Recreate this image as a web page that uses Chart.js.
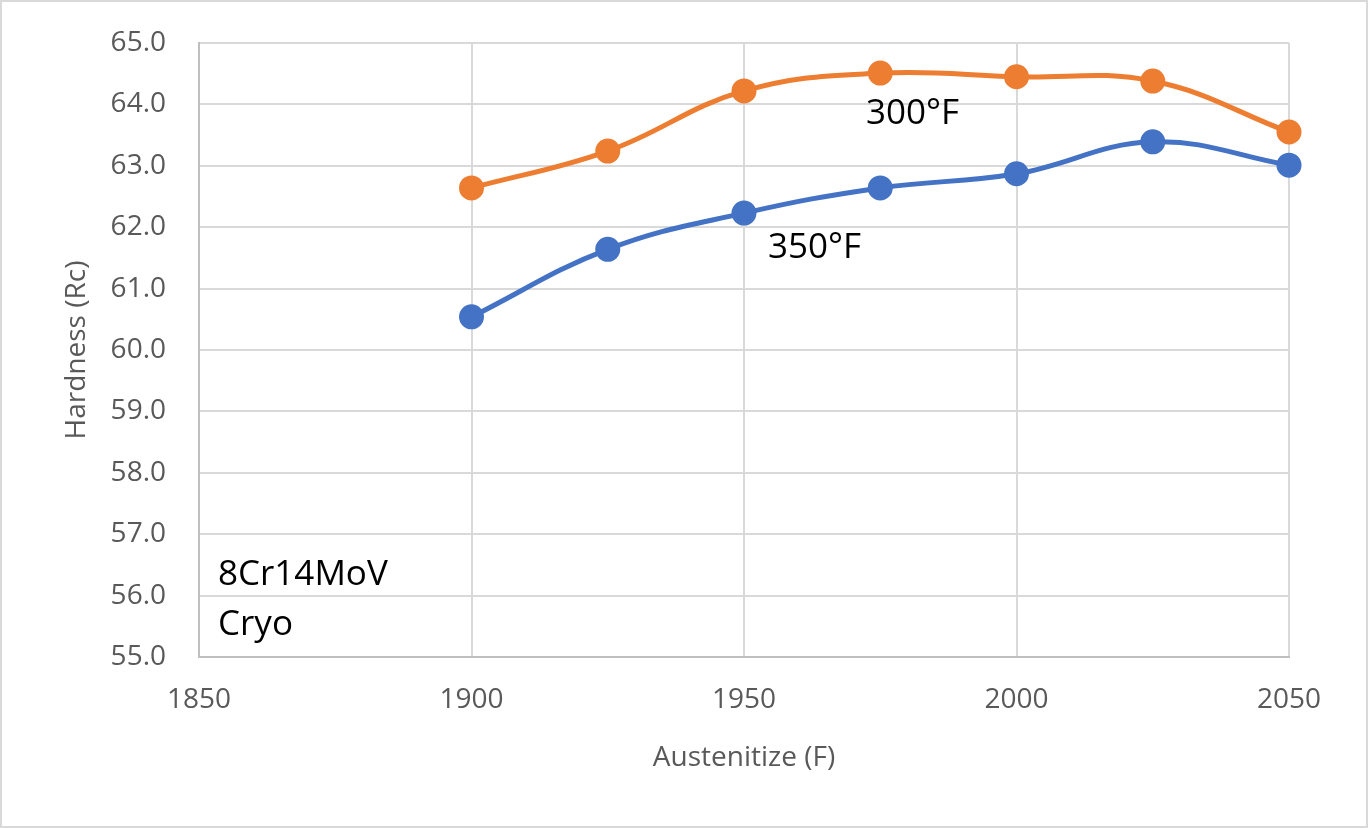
<!DOCTYPE html>
<html>
<head>
<meta charset="utf-8">
<title>8Cr14MoV Cryo hardness</title>
<script src="https://cdn.jsdelivr.net/npm/chart.js@4.4.0/dist/chart.umd.min.js"></script>
<style>
  html, body { margin: 0; padding: 0; background: #fff; }
  #wrap { width: 1368px; height: 828px; }
</style>
</head>
<body>
<div id="wrap"><canvas id="chart" width="1368" height="828"></canvas></div>
<script>
// austenitizing temperature (F)
var temps = [1900, 1925, 1950, 1975, 2000, 2025, 2050];
// hardness (Rc) per temper
var temper300 = [62.64, 63.24, 64.22, 64.51, 64.45, 64.38, 63.55];
var temper350 = [60.54, 61.64, 62.23, 62.64, 62.87, 63.39, 63.01];
var seriesNames = ['300°F', '350°F'];
var noteLines = ['8Cr14MoV', 'Cryo'];

var FONT = '"Open Sans", Lato, sans-serif';

function pts(ys) {
  return temps.map(function (t, i) { return {x: t, y: ys[i]}; });
}

// labels next to each curve, in data units
var seriesLabels = [
  {text: seriesNames[0], x: 1972.4, y: 63.85},
  {text: seriesNames[1], x: 1954.4, y: 61.66}
];

var textPlugin = {
  id: 'texts',
  beforeDraw: function (chart) {
    var c = chart.ctx;
    c.save();
    c.strokeStyle = '#d9d9d9';
    c.lineWidth = 2;
    c.strokeRect(1, 1, chart.width - 2, chart.height - 2);
    c.restore();
  },
  afterDatasetsDraw: function (chart) {
    var c = chart.ctx, xs = chart.scales.x, ys = chart.scales.y, a = chart.chartArea;
    c.save();
    c.fillStyle = '#000';
    c.font = '35px ' + FONT;
    c.textAlign = 'left';
    c.textBaseline = 'middle';
    seriesLabels.forEach(function (l) {
      c.fillText(l.text, xs.getPixelForValue(l.x), ys.getPixelForValue(l.y));
    });
    noteLines.forEach(function (t, i) {
      c.fillText(t, a.left + 19, a.bottom - 82 + i * 50);
    });
    c.restore();
  }
};

new Chart(document.getElementById('chart'), {
  type: 'line',
  data: {
    datasets: [{
      label: seriesNames[0],
      data: pts(temper300),
      borderColor: '#ED7D31',
      backgroundColor: '#ED7D31',
      borderWidth: 5,
      pointRadius: 10,
      pointHoverRadius: 10,
      tension: 0.4,
      clip: false
    }, {
      label: seriesNames[1],
      data: pts(temper350),
      borderColor: '#4472C4',
      backgroundColor: '#4472C4',
      borderWidth: 5,
      pointRadius: 10,
      pointHoverRadius: 10,
      tension: 0.4,
      clip: false
    }]
  },
  options: {
    responsive: false,
    animation: false,
    layout: {padding: {left: 0, top: 43, right: 79, bottom: 0}},
    plugins: {legend: {display: false}, tooltip: {enabled: false}},
    scales: {
      x: {
        type: 'linear',
        min: 1850, max: 2050,
        ticks: {stepSize: 50, color: '#595959', font: {family: FONT, size: 28}, padding: 26,
                callback: function (v) { return String(v); }},
        grid: {color: '#d9d9d9', lineWidth: 2, drawTicks: false},
        border: {color: '#bfbfbf', width: 2},
        title: {display: true, text: 'Austenitize (F)', color: '#595959',
                font: {family: FONT, size: 28}, padding: {top: 0, bottom: 53}},
        afterFit: function (s) { s.height = 171; }
      },
      y: {
        min: 55, max: 65,
        ticks: {stepSize: 1, color: '#595959', font: {family: FONT, size: 28}, padding: 33,
                callback: function (v) { return v.toFixed(1); }},
        grid: {color: '#d9d9d9', lineWidth: 2, drawTicks: false},
        border: {color: '#bfbfbf', width: 2},
        title: {display: true, text: 'Hardness (Rc)', color: '#595959',
                font: {family: FONT, size: 28}, padding: {top: 60, bottom: 0}},
        afterFit: function (s) { s.width = 199; s.paddingTop = 0; s.paddingBottom = 0; }
      }
    }
  },
  plugins: [textPlugin]
});
</script>
</body>
</html>
